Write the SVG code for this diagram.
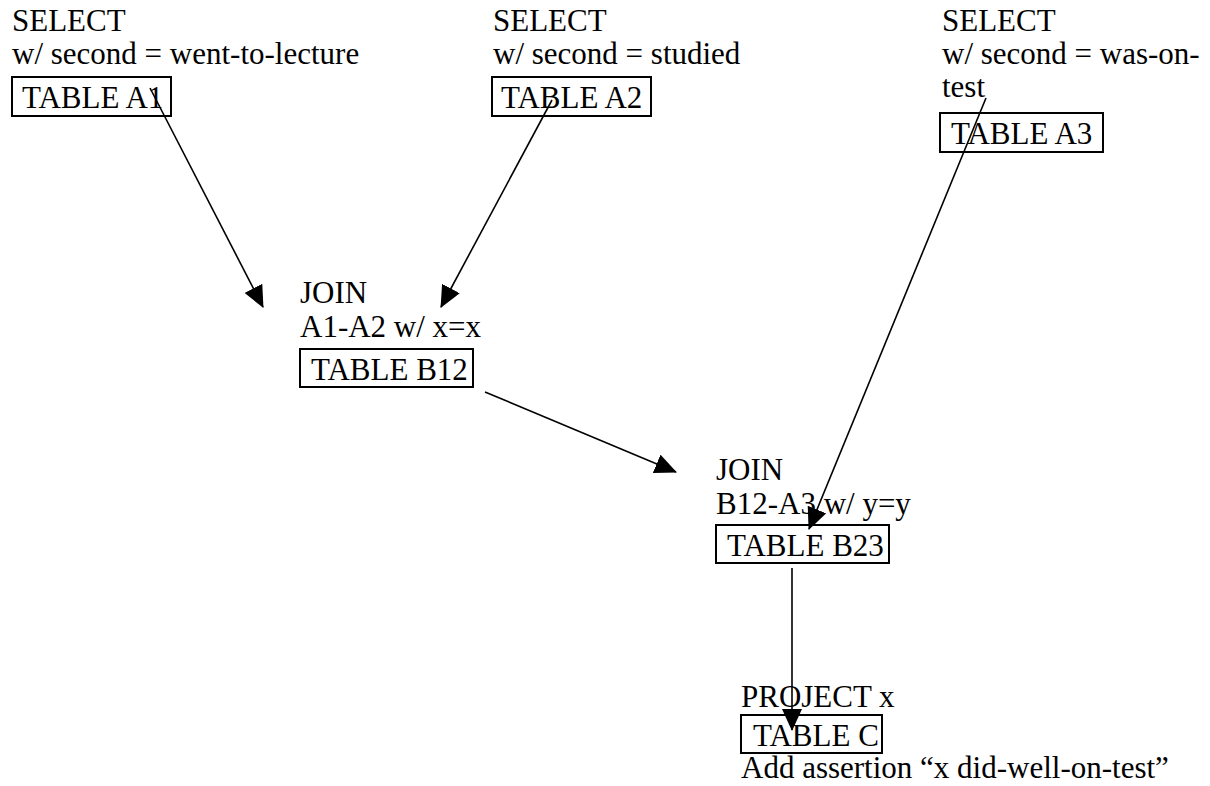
<svg xmlns="http://www.w3.org/2000/svg" width="1210" height="786" viewBox="0 0 1210 786">
<style>
text{font-family:'Liberation Serif','Times New Roman','DejaVu Serif',serif;font-size:31px;fill:#000}
.box{fill:none;stroke:#000;stroke-width:2}
.conn line{stroke:#000;stroke-width:1.6;fill:none}
</style>
<defs>
<marker id="ah" viewBox="0 0 22 20" refX="21" refY="10" markerWidth="22" markerHeight="20" markerUnits="userSpaceOnUse" orient="auto">
<path d="M0,0 L22,10 L0,20 z" fill="#000"/>
</marker>
</defs>
<rect width="1210" height="786" fill="#fff"/>
<g id="selectA1" font-family="Liberation Serif, serif">
<text x="12" y="31">SELECT</text>
<text x="12" y="64">w/ second = went-to-lecture</text>
<rect class="box" x="12" y="77" width="159" height="39"/>
<text x="22" y="108">TABLE A1</text>
</g>
<g id="selectA2">
<text x="493" y="31">SELECT</text>
<text x="493" y="64">w/ second = studied</text>
<rect class="box" x="492" y="77" width="159" height="39"/>
<text x="501" y="108">TABLE A2</text>
</g>
<g id="selectA3">
<text x="942" y="31">SELECT</text>
<text x="942" y="64">w/ second = was-on-</text>
<text x="942" y="97">test</text>
<rect class="box" x="940" y="113" width="163" height="39"/>
<text x="951" y="144">TABLE A3</text>
</g>
<g id="joinB12">
<text x="300" y="303">JOIN</text>
<text x="300" y="337">A1-A2 w/ x=x</text>
<rect class="box" x="300" y="349" width="173" height="38"/>
<text x="311" y="380">TABLE B12</text>
</g>
<g id="joinB23">
<text x="716" y="480">JOIN</text>
<text x="716" y="514">B12-A3 w/ y=y</text>
<rect class="box" x="716" y="525" width="173" height="38"/>
<text x="727" y="556">TABLE B23</text>
</g>
<g id="projectC">
<text x="741" y="707">PROJECT x</text>
<rect class="box" x="741" y="715" width="141" height="38"/>
<text x="753" y="746">TABLE C</text>
<text x="741" y="778">Add assertion “x did-well-on-test”</text>
</g>
<g id="connectors" class="conn">
<line x1="150" y1="88" x2="263" y2="307" marker-end="url(#ah)"/>
<line x1="552" y1="100" x2="441" y2="307" marker-end="url(#ah)"/>
<line x1="986" y1="98" x2="809" y2="529" marker-end="url(#ah)"/>
<line x1="485" y1="392" x2="676" y2="472" marker-end="url(#ah)"/>
<line x1="792" y1="568" x2="792" y2="730" marker-end="url(#ah)"/>
</g>
</svg>
